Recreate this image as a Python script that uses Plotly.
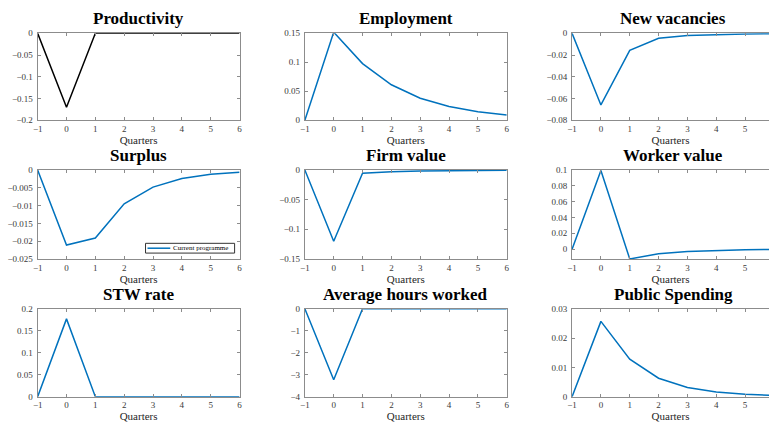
import plotly.graph_objects as go

# Impulse responses over quarters -1..6
quarters = [-1, 0, 1, 2, 3, 4, 5, 6]

productivity = [0, -0.17, 0, 0, 0, 0, 0, 0]
employment = [0, 0.152, 0.0978, 0.0612, 0.038, 0.0236, 0.0146, 0.009]
new_vacancies = [0, -0.0659, -0.0156, -0.0045, -0.0021, -0.0012, -0.0006, -0.0003]
surplus = [0, -0.0211, -0.0191, -0.0095, -0.0048, -0.0024, -0.0012, -0.0006]
firm_value = [0, -0.12, -0.0055, -0.0028, -0.0017, -0.001, -0.0005, -0.0002]
worker_value = [0, 0.0995, -0.0124, -0.0058, -0.003, -0.0014, -0.0007, -0.0003]
stw_rate = [0, 0.177, 0, 0, 0, 0, 0, 0]
avg_hours = [0, -3.23, 0, 0, 0, 0, 0, 0]
public_spending = [0, 0.0257, 0.0128, 0.0063, 0.0031, 0.0016, 0.0008, 0.0004]

titles = ["Productivity", "Employment", "New vacancies",
          "Surplus", "Firm value", "Worker value",
          "STW rate", "Average hours worked", "Public Spending"]
series = [productivity, employment, new_vacancies,
          surplus, firm_value, worker_value,
          stw_rate, avg_hours, public_spending]
y_ranges = [[-0.2, 0], [0, 0.15], [-0.08, 0],
            [-0.025, 0], [-0.15, 0], [-0.0124, 0.1],
            [0, 0.2], [-4, 0], [0, 0.03]]
y_ticks = [[-0.2, -0.15, -0.1, -0.05, 0],
           [0, 0.05, 0.1, 0.15],
           [-0.08, -0.06, -0.04, -0.02, 0],
           [-0.025, -0.02, -0.015, -0.01, -0.005, 0],
           [-0.15, -0.1, -0.05, 0],
           [0, 0.02, 0.04, 0.06, 0.08, 0.1],
           [0, 0.05, 0.1, 0.15, 0.2],
           [-4, -3, -2, -1, 0],
           [0, 0.01, 0.02, 0.03]]
legend_name = "Current programme"

W, H = 772, 430
BLUE = "#0072BD"
AXIS_GREY = "#8c8c8c"
TICK_TEXT = "#3a3a3a"
SERIF = "Liberation Serif"

# Pixel layout of the 3x3 grid (left, right) and (top, bottom)
col_px = [(33, 237), (303, 507), (573, 777)]
row_px = [(29, 118), (169, 260), (311, 401)]
unit = (col_px[0][1] - col_px[0][0]) / 7.0

fig = go.Figure()
layout = {}
annotations = []
shapes = []

for i, (title, ys) in enumerate(zip(titles, series)):
    r, c = divmod(i, 3)
    k = i + 1
    xa = "xaxis" if k == 1 else f"xaxis{k}"
    ya = "yaxis" if k == 1 else f"yaxis{k}"
    xref = "x" if k == 1 else f"x{k}"
    yref = "y" if k == 1 else f"y{k}"

    left, right = col_px[c]
    x_max = 6
    if right > W:
        # last column runs past the page edge
        x_max = -1 + (W - left) / unit
        right = W
    top, bottom = row_px[r]

    color = "black" if i == 0 else BLUE
    fig.add_trace(go.Scatter(
        x=quarters, y=ys, mode="lines", xaxis=xref, yaxis=yref,
        line=dict(color=color, width=1.5),
        name=legend_name, showlegend=False,
    ))

    layout[xa] = dict(
        domain=[left / W, right / W], anchor=yref, range=[-1, x_max],
        tickvals=list(range(-1, 7)), ticks="inside", ticklen=3,
        tickcolor=AXIS_GREY, showline=True, linecolor=AXIS_GREY,
        linewidth=1, mirror="ticks", showgrid=False, zeroline=False,
        tickfont=dict(family=SERIF, size=9, color=TICK_TEXT),
        title=dict(text="Quarters", standoff=0,
                   font=dict(family=SERIF, size=11, color="#262626")),
    )
    layout[ya] = dict(
        domain=[1 - bottom / H, 1 - top / H], anchor=xref,
        range=y_ranges[i], tickvals=y_ticks[i], ticks="inside", ticklen=3,
        tickcolor=AXIS_GREY, showline=True, linecolor=AXIS_GREY,
        linewidth=1, mirror=("ticks" if c < 2 else False),
        showgrid=False, zeroline=False, ticklabelstandoff=2,
        tickfont=dict(family=SERIF, size=9, color=TICK_TEXT),
    )

    center = (col_px[c][0] + col_px[c][1]) / 2
    annotations.append(dict(
        text=f"<b>{title}</b>", xref="paper", yref="paper",
        x=center / W, y=1 - (top - 3) / H, xanchor="center",
        yanchor="bottom", showarrow=False,
        font=dict(family=SERIF, size=17, color="black"),
    ))

# Legend box inside the Surplus panel
lx0, lx1, ly0, ly1 = 142, 232, 244, 254
shapes.append(dict(type="rect", xref="paper", yref="paper",
                   x0=lx0 / W, x1=lx1 / W, y0=1 - ly1 / H, y1=1 - ly0 / H,
                   line=dict(color="#333333", width=1), fillcolor="white"))
shapes.append(dict(type="line", xref="paper", yref="paper",
                   x0=(lx0 + 2) / W, x1=(lx0 + 25) / W,
                   y0=1 - (ly0 + ly1) / 2 / H, y1=1 - (ly0 + ly1) / 2 / H,
                   line=dict(color=BLUE, width=1.5)))
annotations.append(dict(
    text=legend_name, xref="paper", yref="paper",
    x=(lx0 + 26) / W, y=1 - (ly0 + ly1) / 2 / H, xanchor="left",
    yanchor="middle", showarrow=False,
    font=dict(family=SERIF, size=7, color="black"),
))

fig.update_layout(
    width=W, height=H, margin=dict(l=0, r=0, t=0, b=0),
    paper_bgcolor="white", plot_bgcolor="white",
    annotations=annotations, shapes=shapes, showlegend=False,
    **layout,
)

fig.write_html("out.html")
